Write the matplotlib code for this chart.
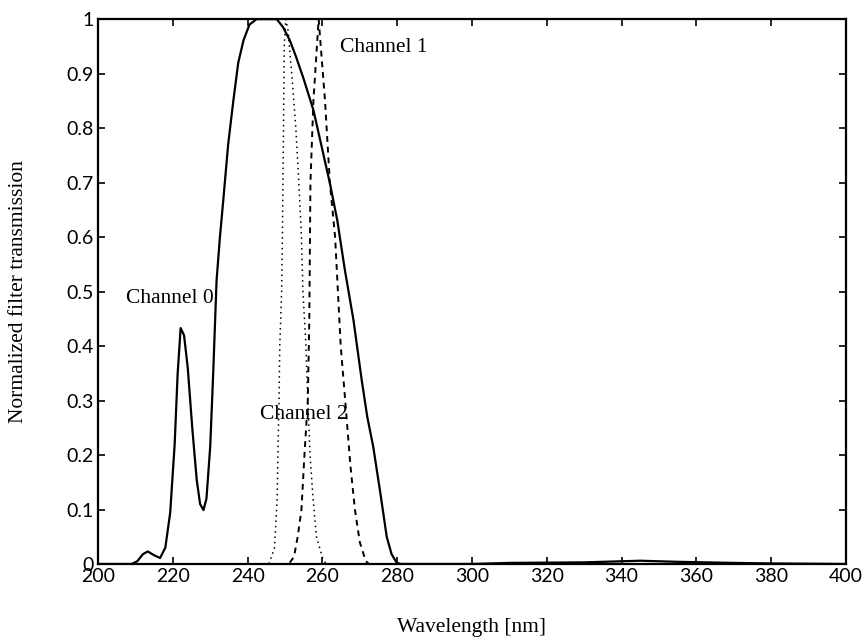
import matplotlib.pyplot as plt

# Channel 0 (solid)
wl0 = [200, 209, 210.5, 212, 213.3, 215, 216.6, 218, 219.3, 220.5, 221.3, 222.1, 223, 224,
       225.2, 226.4, 227.3, 228.2, 229, 230, 230.8, 231.7, 232.6, 233.5, 234.8, 236.2, 237.5,
       238.9, 240.5, 242.4, 245, 247.8, 249.5, 251.3, 253, 255, 257.6, 260, 262, 264, 266,
       268.3, 270.5, 272, 273.6, 275.5, 277.2, 278.5, 279.9, 281, 300, 310, 330, 335, 345,
       355, 370, 380, 400]
ch0 = [0, 0, 0.005, 0.018, 0.023, 0.016, 0.011, 0.03, 0.094, 0.22, 0.35, 0.433, 0.42, 0.36,
       0.25, 0.154, 0.11, 0.099, 0.12, 0.215, 0.35, 0.52, 0.60, 0.668, 0.77, 0.851, 0.92,
       0.961, 0.99, 1.0, 1.0, 1.0, 0.985, 0.961, 0.93, 0.89, 0.833, 0.76, 0.699, 0.63, 0.54,
       0.448, 0.338, 0.27, 0.215, 0.13, 0.05, 0.018, 0.002, 0, 0, 0.002, 0.003, 0.004, 0.006,
       0.004, 0.002, 0.001, 0]

# Channel 1 (dashed)
wl1 = [200, 251, 252.4, 253.4, 254.4, 255.2, 256.1, 256.5, 256.8, 257.6, 259, 260.7, 262,
       263.4, 264.9, 266.1, 267.5, 268.7, 270, 271.6, 272.5, 400]
ch1 = [0, 0, 0.013, 0.05, 0.1, 0.2, 0.3, 0.45, 0.70, 0.85, 1.0, 0.85, 0.70,
       0.60, 0.40, 0.30, 0.18, 0.10, 0.04, 0.005, 0, 0]

# Channel 2 (dotted)
wl2 = [200, 245.7, 247.2, 247.9, 248.1, 248.4, 248.6, 249.1, 249.3, 249.6, 249.8, 250.2,
       250.8, 251.8, 252.9, 253.7, 254.4, 254.8, 255.6, 256.1, 256.7, 257.5, 258.4, 260.1,
       261, 400]
ch2 = [0, 0, 0.03, 0.12, 0.2, 0.3, 0.4, 0.5, 0.6, 0.8, 0.95, 1.0,
       0.98, 0.9, 0.8, 0.7, 0.6, 0.5, 0.4, 0.3, 0.2, 0.12, 0.05, 0.01,
       0, 0]

xticks = [200, 220, 240, 260, 280, 300, 320, 340, 360, 380, 400]
yticks = [0, 0.1, 0.2, 0.3, 0.4, 0.5, 0.6, 0.7, 0.8, 0.9, 1]
ytick_labels = ['0', '0.1', '0.2', '0.3', '0.4', '0.5', '0.6', '0.7', '0.8', '0.9', '1']

serif = 'Liberation Serif'
tickfont = 'Lato'

fig = plt.figure(figsize=(8.65, 6.38), dpi=100)
ax = fig.add_axes([0.1133, 0.116, 0.8647, 0.854])

ax.plot(wl0, ch0, color='black', lw=1.6, ls='-')
ax.plot(wl1, ch1, color='black', lw=1.4, ls=(0, (3, 2.5)))
ax.plot(wl2, ch2, color='black', lw=1.1, ls=(0, (1, 2.5)))

ax.set_xlim(200, 400)
ax.set_ylim(0, 1)
ax.set_xticks(xticks)
ax.set_yticks(yticks)
ax.set_xticklabels([str(t) for t in xticks], fontfamily=tickfont, fontsize=14)
ax.set_yticklabels(ytick_labels, fontfamily=tickfont, fontsize=14)
ax.tick_params(direction='in', length=5, width=1.2, top=True, right=True, pad=3)
for s in ax.spines.values():
    s.set_linewidth(1.6)

ax.text(207.5, 0.487, 'Channel 0', fontfamily=serif, fontsize=15.5, va='center')
ax.text(264.6, 0.948, 'Channel 1', fontfamily=serif, fontsize=15.5, va='center')
ax.text(243.2, 0.274, 'Channel 2', fontfamily=serif, fontsize=15.5, va='center')

ax.set_xlabel('Wavelength [nm]', fontfamily=serif, fontsize=15.5, labelpad=24)
ax.set_ylabel('Normalized filter transmission', fontfamily=serif, fontsize=15.5, labelpad=28)

fig.savefig('out.png', dpi=100, facecolor='white')
